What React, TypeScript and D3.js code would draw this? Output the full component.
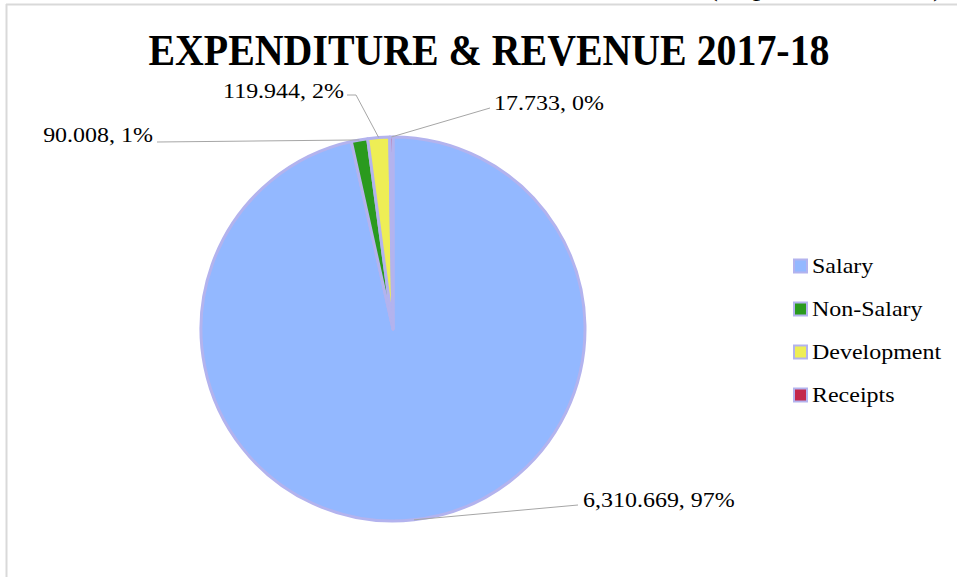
import React from 'react';
import * as d3 from 'd3';

const categories = ['Salary', 'Non-Salary', 'Development', 'Receipts'];
const values = [6310.669, 90.008, 119.944, 17.733];
const colors = ['#93B8FF', '#2A9A1E', '#EEEE55', '#C3274B'];
const title = 'EXPENDITURE & REVENUE 2017-18';
const unitNote = '(Rupees in Million)';

const W = 957;
const H = 577;
const FONT = "'Liberation Serif', 'Times New Roman', serif";
const SX = 1.09;

// label layout (positions only)
const labelLayout = [
  { x: 583, y: 507, anchor: 'start', lx: 578, ly: 505 },
  { x: 153, y: 142, anchor: 'end', lx: 157, ly: 142 },
  { x: 344, y: 98, anchor: 'end', lx: 347, ly: 95, ex: 356, ey: 95 },
  { x: 494, y: 110, anchor: 'start', lx: 490, ly: 108 },
];

export default function App() {
  const cx = 393;
  const cy = 329;
  const r = 192;
  const total = d3.sum(values);
  const pie = d3.pie<number>().sort(null).startAngle(0).endAngle(Math.PI * 2);
  const arcs = pie(values);
  const arc = d3.arc<d3.PieArcDatum<number>>().innerRadius(0).outerRadius(r);
  const fmt = d3.format(',.3f');

  const legendX = 793;
  const legendY0 = 266;
  const legendStep = 43;

  return (
    <svg width={W} height={H} style={{ position: 'absolute', left: 0, top: 0, background: '#fff' }}>
      <rect x={0} y={0} width={W} height={H} fill="#fff" />
      <text
        transform={`translate(943,-4)`}
        textAnchor="end"
        fontFamily={FONT}
        fontSize={26}
        fill="#000"
        textLength={235}
        lengthAdjust="spacingAndGlyphs"
      >
        {unitNote}
      </text>
      <line x1={6} y1={4.5} x2={W} y2={4.5} stroke="#D9D9D9" strokeWidth={2} />
      <line x1={6.5} y1={4} x2={6.5} y2={H} stroke="#D9D9D9" strokeWidth={2} />

      <text
        x={489}
        y={65}
        textAnchor="middle"
        fontFamily={FONT}
        fontWeight="bold"
        fontSize={44}
        textLength={681}
        lengthAdjust="spacingAndGlyphs"
        fill="#000"
      >
        {title}
      </text>

      <g transform={`translate(${cx},${cy})`}>
        {arcs.map((a, i) => (
          <path key={i} d={arc(a) || ''} fill={colors[i]} stroke="#B3B3EE" strokeWidth={3} strokeLinejoin="round" />
        ))}
      </g>

      {arcs.map((a, i) => {
        const mid = (a.startAngle + a.endAngle) / 2;
        const px = cx + r * Math.sin(mid);
        const py = cy - r * Math.cos(mid);
        const L = labelLayout[i];
        const pts = L.ex !== undefined
          ? `${L.lx},${L.ly} ${L.ex},${L.ey} ${px},${py}`
          : `${L.lx},${L.ly} ${px},${py}`;
        const pct = Math.round((values[i] / total) * 100);
        return (
          <g key={i}>
            <polyline points={pts} fill="none" stroke="#A6A6A6" strokeWidth={1} />
            <text
              transform={`translate(${L.x},${L.y}) scale(${SX},1)`}
              textAnchor={L.anchor as any}
              fontFamily={FONT}
              fontSize={22}
              fill="#000"
            >
              {`${fmt(values[i])}, ${pct}%`}
            </text>
          </g>
        );
      })}

      {categories.map((c, i) => {
        const y = legendY0 + i * legendStep;
        return (
          <g key={c}>
            <rect x={legendX + 1} y={y - 6.5} width={13} height={13} fill={colors[i]} stroke="#B3B3EE" strokeWidth={2} />
            <text
              transform={`translate(${legendX + 19},${y + 7}) scale(${SX},1)`}
              fontFamily={FONT}
              fontSize={22}
              fill="#000"
            >
              {c}
            </text>
          </g>
        );
      })}
    </svg>
  );
}
